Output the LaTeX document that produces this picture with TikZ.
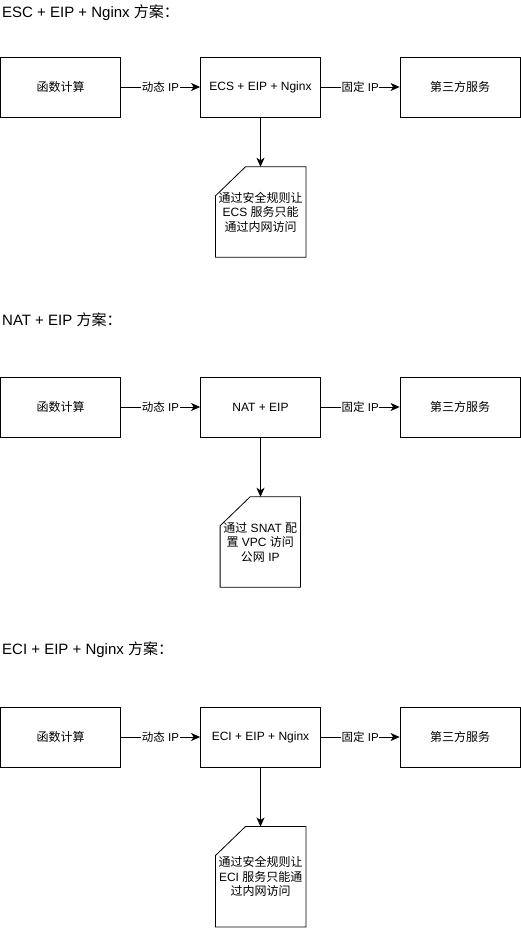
\documentclass[tikz,border=0pt]{standalone}
\usepackage{fontspec}
\setmainfont{Liberation Sans}
\newfontfamily\cjk{Noto Sans CJK SC}
\newcommand\zh[1]{{\cjk #1}}
\usetikzlibrary{arrows.meta}
\begin{document}
\begin{tikzpicture}[x=1pt,y=-1pt,
  box/.style={draw, line width=0.8pt, minimum width=120pt, minimum height=60pt, inner sep=0pt, font=\fontsize{12}{14}\selectfont},
  notebox/.style={inner sep=0pt, align=center, font=\fontsize{12}{14.5}\selectfont},
  title/.style={anchor=west, inner sep=0pt, font=\fontsize{15}{17}\selectfont},
  arr/.style={draw, line width=0.8pt, -{Stealth[length=9pt,width=8pt,inset=2.5pt]}},
  lbl/.style={fill=white, inner sep=0.5pt, font=\fontsize{11.5}{13}\selectfont},
  notepath/.style={draw, line width=0.8pt}
]
\useasboundingbox (0,0) rectangle (521,928);

% ---- Scheme 1
\node[title] (t1) at (2,12.5) {ESC + EIP + Nginx \zh{方案：}};
\node[box] (a1) at (60.5,87) {\zh{函数计算}};
\node[box] (b1) at (260.5,87) {ECS + EIP + Nginx};
\node[box] (c1) at (460,87) {\zh{第三方服务}};
\node[notebox, minimum width=90pt, minimum height=90pt] (n1) at (260.7,212)
  {\zh{通过安全规则让}\\ECS \zh{服务只能}\\\zh{通过内网访问}};
\draw[arr] (a1) -- node[lbl] {\zh{动态} IP} (b1);
\draw[arr] (b1) -- node[lbl] {\zh{固定} IP} (c1);
\draw[arr] (b1.south) -- (b1.south |- n1.north);

% ---- Scheme 2
\node[title] (t2) at (2,320) {NAT + EIP \zh{方案：}};
\node[box] (a2) at (60.5,407) {\zh{函数计算}};
\node[box] (b2) at (260.5,407) {NAT + EIP};
\node[box] (c2) at (460,407) {\zh{第三方服务}};
\node[notebox, minimum width=80pt, minimum height=90pt] (n2) at (260.3,542)
  {\zh{通过} SNAT \zh{配}\\\zh{置} VPC \zh{访问}\\\zh{公网} IP};
\draw[arr] (a2) -- node[lbl] {\zh{动态} IP} (b2);
\draw[arr] (b2) -- node[lbl] {\zh{固定} IP} (c2);
\draw[arr] (b2.south) -- (b2.south |- n2.north);

% ---- Scheme 3
\node[title] (t3) at (2,650) {ECI + EIP + Nginx \zh{方案：}};
\node[box] (a3) at (60.5,737) {\zh{函数计算}};
\node[box] (b3) at (260.5,737) {ECI + EIP + Nginx};
\node[box] (c3) at (460,737) {\zh{第三方服务}};
\node[notebox, minimum width=90pt, minimum height=100pt] (n3) at (260.7,876.7)
  {\zh{通过安全规则让}\\ECI \zh{服务只能通}\\\zh{过内网访问}};
\draw[arr] (a3) -- node[lbl] {\zh{动态} IP} (b3);
\draw[arr] (b3) -- node[lbl] {\zh{固定} IP} (c3);
\draw[arr] (b3.south) -- (b3.south |- n3.north);

% note outlines with folded corner
\foreach \n in {n1,n2,n3}{
  \draw[notepath] ([xshift=30pt]\n.north west) -- (\n.north east) -- (\n.south east)
    -- (\n.south west) -- ([yshift=-29pt]\n.north west) -- cycle;
}
\end{tikzpicture}
\end{document}
